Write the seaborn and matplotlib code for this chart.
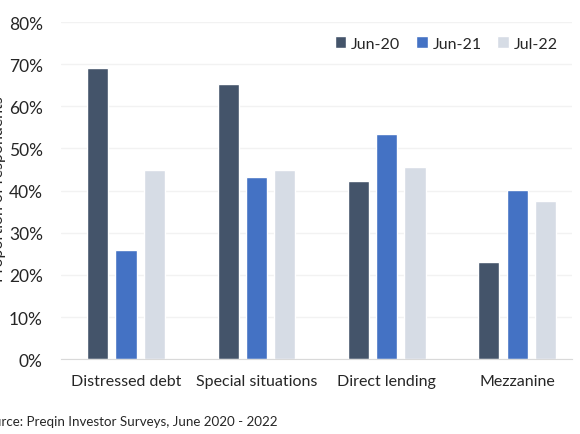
import matplotlib
matplotlib.use("Agg")
import matplotlib.pyplot as plt
import pandas as pd
import seaborn as sns
from matplotlib.ticker import PercentFormatter

strategies = ['Distressed debt', 'Special situations', 'Direct lending', 'Mezzanine']
surveys = ['Jun-20', 'Jun-21', 'Jul-22']
jun20 = [0.692, 0.654, 0.422, 0.230]
jun21 = [0.259, 0.432, 0.535, 0.401]
jul22 = [0.448, 0.448, 0.455, 0.375]
colors = ['#44546A', '#4472C4', '#D6DCE5']

df = pd.DataFrame({'Strategy': strategies * 3,
                   'Survey': [s for s in surveys for _ in strategies],
                   'Value': jun20 + jun21 + jul22})

sns.set_style('white')
plt.rcParams['font.family'] = ['Lato', 'DejaVu Sans']

fig = plt.figure(figsize=(5.8, 4.35), dpi=100)
ax = fig.add_axes([0.105, 0.172, 0.881, 0.775])

sns.barplot(data=df, x='Strategy', y='Value', hue='Survey', palette=colors,
            width=0.65, gap=0.25, ax=ax, saturation=1)

ax.set_ylim(0, 0.8)
ax.set_yticks([i / 10 for i in range(9)])
ax.yaxis.set_major_formatter(PercentFormatter(1.0, decimals=0))
ax.grid(axis='y', color='#F2F2F2', linewidth=1)
ax.set_axisbelow(True)
for s in ['top', 'right', 'left']:
    ax.spines[s].set_visible(False)
ax.spines['bottom'].set_color('#D9D9D9')
ax.tick_params(axis='both', length=0, labelsize=11.5, colors='#262626')
ax.tick_params(axis='y', labelsize=12.5, pad=13)
ax.tick_params(axis='x', pad=11)
ax.set_xlabel('')
ax.set_ylabel('')
ax.set_xlim(-0.5, 3.42)

leg = ax.legend(loc='upper right', bbox_to_anchor=(1.0, 1.0), ncol=3, frameon=False,
                fontsize=11.5, handlelength=0.7, handleheight=0.7, handletextpad=0.3,
                columnspacing=1.0)
for t in leg.get_texts():
    t.set_color('#262626')

fig.text(-0.002, 0.565, 'Proportion of respondents', rotation=90, ha='center', va='center',
         fontsize=11.5, color='#262626')
fig.text(-0.036, 0.03, 'Source: Preqin Investor Surveys, June 2020 - 2022', ha='left',
         va='center', fontsize=9.6, color='#262626')

fig.savefig('out.png', dpi=100)
